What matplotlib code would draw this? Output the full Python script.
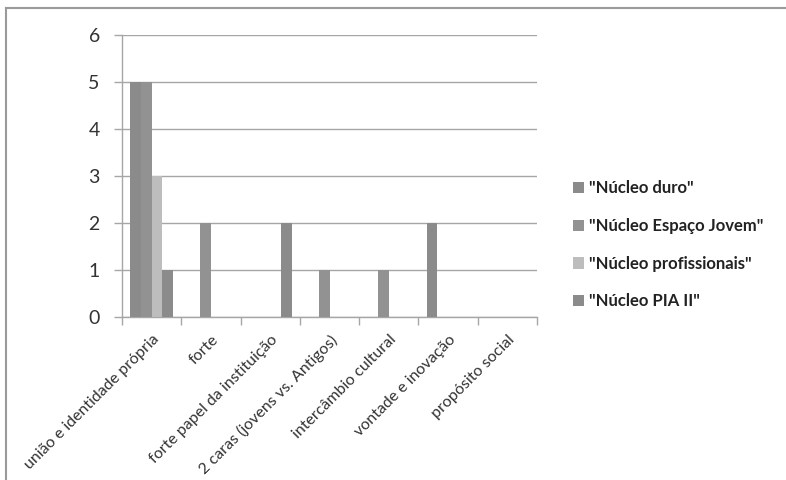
import matplotlib
matplotlib.use("Agg")
import matplotlib.pyplot as plt
from matplotlib.lines import Line2D
from matplotlib.patches import Patch
import numpy as np

categories = ["união e identidade própria", "forte", "forte papel da instituição",
              "2 caras (jovens vs. Antigos)", "intercâmbio cultural",
              "vontade e inovação", "propósito social"]
series_names = ['"Núcleo duro"', '"Núcleo Espaço Jovem"', '"Núcleo profissionais"', '"Núcleo PIA II"']
nucleo_duro = [5, 0, 0, 0, 0, 2, 0]
nucleo_espaco_jovem = [5, 2, 0, 1, 1, 0, 0]
nucleo_profissionais = [3, 0, 0, 0, 0, 0, 0]
nucleo_pia_ii = [1, 0, 2, 0, 0, 0, 0]
yticks = [0, 1, 2, 3, 4, 5, 6]

series = [nucleo_duro, nucleo_espaco_jovem, nucleo_profissionais, nucleo_pia_ii]
colors = ["#8b8b8b", "#929292", "#bdbdbd", "#8b8b8b"]

plt.rcParams['font.family'] = ['Lato', 'DejaVu Sans']

fig = plt.figure(figsize=(7.86, 4.80), dpi=100)
ax = fig.add_axes([122/786, 1-317/480, (537-122)/786, (317-35)/480])

x = np.arange(len(categories))
w = 1/5.5
for i, (vals, c) in enumerate(zip(series, colors)):
    ax.bar(x + (i - 1.5) * w, vals, width=w, color=c, edgecolor='none', zorder=3)

ax.set_xlim(-0.5, len(categories) - 0.5)
ax.set_ylim(0, 6)
ax.set_yticks(yticks)
ax.set_yticklabels([str(v) for v in yticks], fontsize=14, color='#333333')
ax.yaxis.grid(True, color='#a6a6a6', linewidth=1, zorder=0)
ax.tick_params(axis='y', length=6, color='#a6a6a6', width=1, pad=10)

ax.set_xticks(x)
ax.set_xticklabels(categories, rotation=45, ha='right', rotation_mode='anchor',
                   fontsize=11.5, color='#333333')
ax.tick_params(axis='x', which='major', length=0, pad=11)
ax.set_xticks(np.arange(-0.5, len(categories)), minor=True)
ax.tick_params(axis='x', which='minor', length=6, color='#a6a6a6', width=1)

for s in ['top', 'right']:
    ax.spines[s].set_visible(False)
for s in ['left', 'bottom']:
    ax.spines[s].set_color('#a6a6a6')
    ax.spines[s].set_linewidth(1)

handles = [Patch(facecolor=c, edgecolor='none') for c in colors]
leg = fig.legend(handles, series_names, loc='center left',
                 bbox_to_anchor=(558/786, 1-245/480), frameon=False,
                 prop={'family': ['Lato', 'DejaVu Sans'], 'size': 12, 'weight': 'bold'},
                 labelspacing=1.3, handlelength=0.65, handleheight=0.65,
                 handletextpad=0.3)
for t in leg.get_texts():
    t.set_color('#222222')

# outer border (top and left only, as cropped)
fig.add_artist(Line2D([6/786, 1], [1-8/480, 1-8/480], transform=fig.transFigure,
                      color='#9a9a9a', linewidth=1.5))
fig.add_artist(Line2D([6/786, 6/786], [0, 1-8/480], transform=fig.transFigure,
                      color='#9a9a9a', linewidth=1.5))

fig.savefig("out.png", dpi=100)
